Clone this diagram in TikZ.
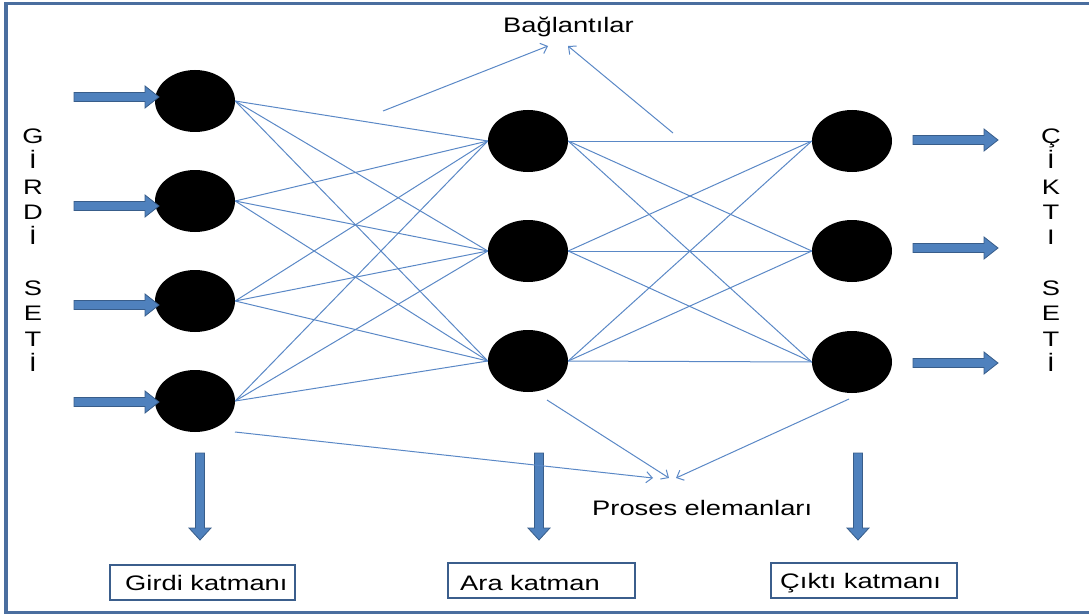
\documentclass[tikz,border=0pt]{standalone}
\usepackage{fontspec}
\setmainfont{Liberation Sans}[FakeStretch=1.3]
\usetikzlibrary{shapes.geometric,arrows.meta}
\definecolor{framec}{HTML}{4A6E9F}
\definecolor{linkc}{HTML}{5A88C6}
\definecolor{arrfill}{HTML}{4F81BD}
\definecolor{arredge}{HTML}{385D8A}
\definecolor{boxc}{HTML}{3B5E8C}

\begin{document}
\begin{tikzpicture}[x=1pt,y=-1pt,
  neuron/.style={ellipse, fill=black, minimum width=80pt, minimum height=62pt, inner sep=0pt},
  link/.style={linkc, line width=1pt},
  note/.style={linkc, line width=1pt, -{Straight Barb[length=6pt,width=11pt]}},
  fat/.style={fill=arrfill, draw=arredge, line width=0.8pt},
  layerbox/.style={draw=boxc, line width=1.8pt, minimum height=35pt, inner sep=0pt},
  txt/.style={font=\fontsize{21}{25}\selectfont, text=black, inner sep=0pt},
  rarrow/.pic={\path[fat] (0,-4.5) -- (71,-4.5) -- (71,-11) -- (85,0) -- (71,11) -- (71,4.5) -- (0,4.5) -- cycle;},
  darrow/.pic={\path[fat] (-4.5,0) -- (-4.5,75) -- (-11,75) -- (0,87) -- (11,75) -- (4.5,75) -- (4.5,0) -- cycle;}
]
\useasboundingbox (0,0) rectangle (1089,615);

% outer frame (open on the right)
\draw[framec, line width=3.5pt] (6,3.5) rectangle (1100,612.5);

% processing elements
\node[neuron] (i1) at (195,101) {};
\node[neuron] (i2) at (195,201) {};
\node[neuron] (i3) at (195,301) {};
\node[neuron] (i4) at (195,401) {};
\node[neuron] (h1) at (528,141) {};
\node[neuron] (h2) at (528,251) {};
\node[neuron] (h3) at (528,361) {};
\node[neuron] (o1) at (852,141) {};
\node[neuron] (o2) at (852,251) {};
\node[neuron] (o3) at (852,362) {};

% weighted connections
\foreach \a in {1,...,4}
  \foreach \b in {1,2,3}
    \draw[link] (i\a.east) -- (h\b.west);
\foreach \a in {1,2,3}
  \foreach \b in {1,2,3}
    \draw[link] (h\a.east) -- (o\b.west);

% input and output block arrows
\pic at (74,97) {rarrow};
\pic at (74,206) {rarrow};
\pic at (74,305) {rarrow};
\pic at (74,402) {rarrow};
\pic at (913,140) {rarrow};
\pic at (913,248) {rarrow};
\pic at (913,363) {rarrow};

% layer arrows
\pic at (200,453) {darrow};
\pic at (539,453) {darrow};
\pic at (858,453) {darrow};

% layer labels
\node[layerbox, minimum width=185pt] (gk) at (202.5,582.5) {};
\node[txt, anchor=base west] (gkt) at (125,590) {Girdi katmanı};
\node[layerbox, minimum width=187pt] (ak) at (541.5,580.5) {};
\node[txt, anchor=base west] (akt) at (460,590) {Ara katman};
\node[layerbox, minimum width=186pt] (ck) at (864,580.5) {};
\node[txt, anchor=base west] (ckt) at (780,588) {Çıktı katmanı};

% annotations
\node[txt, anchor=base west] (bag) at (503,33) {Bağlantılar};
\node[txt, anchor=base west] (pe) at (592,515) {Proses elemanları};

\coordinate (b1s) at (383,111);
\coordinate (b1e) at (548,46);
\coordinate (b2s) at (673,133);
\coordinate (b2e) at (568,46);
\draw[note] (b1s) -- (b1e);
\draw[note] (b2s) -- (b2e);

\coordinate (p1s) at (235,432);
\coordinate (p1e) at (653,478);
\coordinate (p2s) at (547,400);
\coordinate (p2e) at (669,478);
\coordinate (p3s) at (849,399);
\coordinate (p3e) at (676,478);
\draw[note] (p1s) -- (p1e);
\draw[note] (p2s) -- (p2e);
\draw[note] (p3s) -- (p3e);

% vertical set labels
\foreach \c [count=\k] in {G,İ,R,D,İ,,S,E,T,İ}
  \node[txt, anchor=base] (gs\k) at (33,{143.5+25.35*(\k-1)}) {\c};
\foreach \c [count=\k] in {Ç,İ,K,T,I,,S,E,T,İ}
  \node[txt, anchor=base] (cs\k) at (1051,{143.5+25.35*(\k-1)}) {\c};
\end{tikzpicture}
\end{document}
